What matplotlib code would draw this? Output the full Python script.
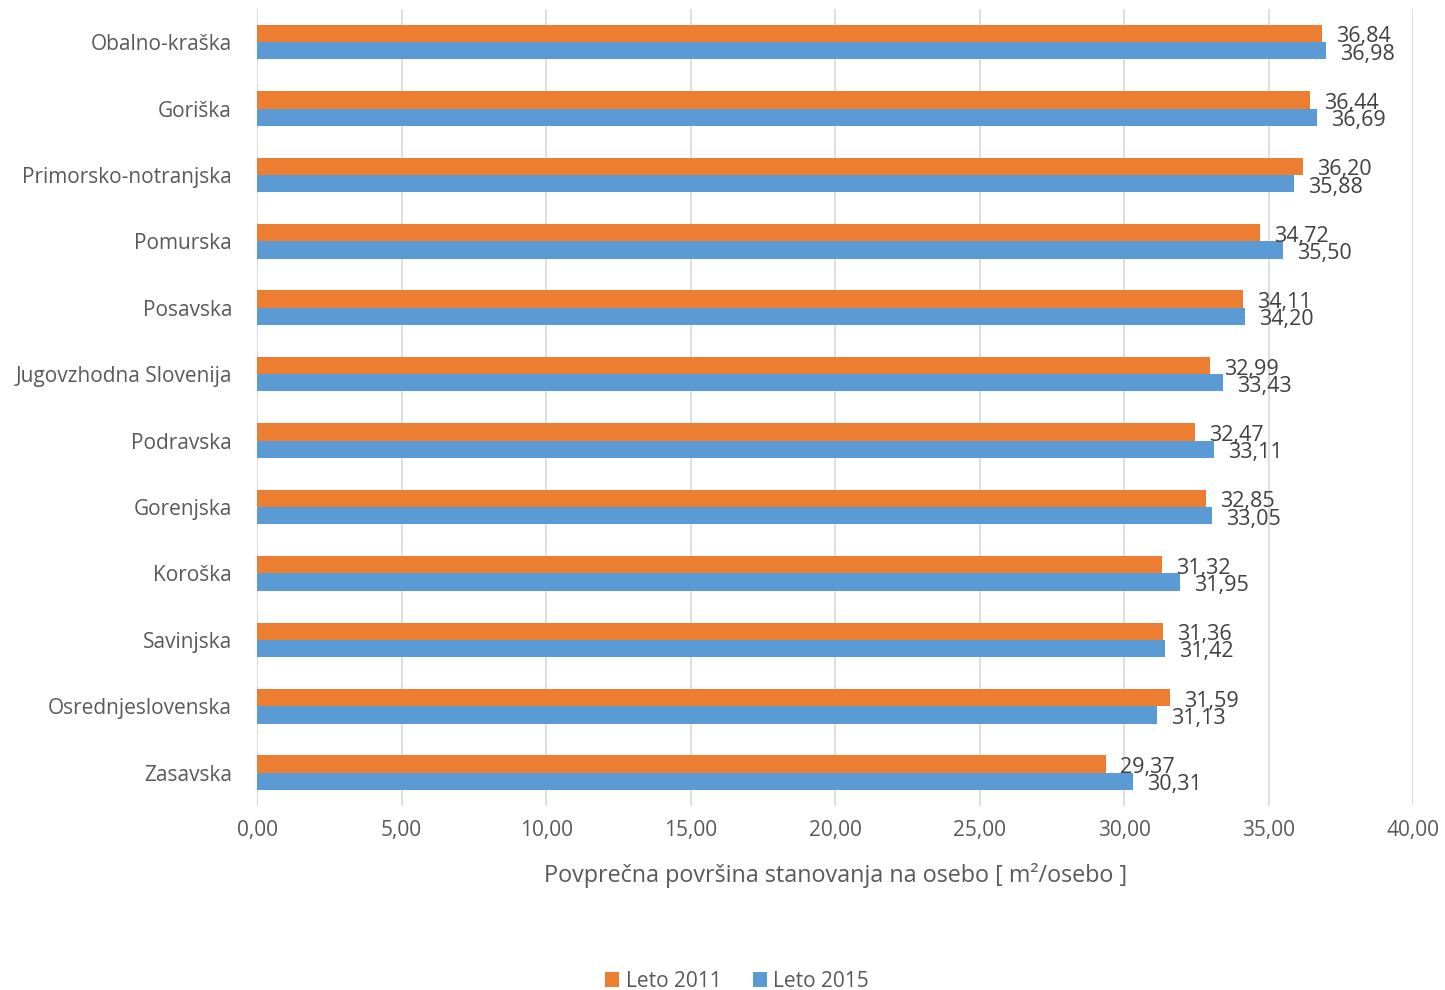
import numpy as np
import matplotlib.pyplot as plt

# data
regions = ['Obalno-kraška', 'Goriška', 'Primorsko-notranjska', 'Pomurska', 'Posavska',
           'Jugovzhodna Slovenija', 'Podravska', 'Gorenjska', 'Koroška', 'Savinjska',
           'Osrednjeslovenska', 'Zasavska']
leto_2011 = [36.84, 36.44, 36.20, 34.72, 34.11, 32.99, 32.47, 32.85, 31.32, 31.36, 31.59, 29.37]
leto_2015 = [36.98, 36.69, 35.88, 35.50, 34.20, 33.43, 33.11, 33.05, 31.95, 31.42, 31.13, 30.31]
x_ticks = [0, 5, 10, 15, 20, 25, 30, 35, 40]

plt.rcParams['font.family'] = ['Open Sans', 'DejaVu Sans']
txt = '#595959'

fig = plt.figure(figsize=(14.45, 9.9), dpi=100)
ax = fig.add_axes([0.1779, 0.186, 0.8, 0.805])

y = np.arange(len(regions))
h = 0.26
b1 = ax.barh(y - h / 2, leto_2011, height=h, color='#ED7D31', label='Leto 2011', zorder=3)
b2 = ax.barh(y + h / 2, leto_2015, height=h, color='#5B9BD5', label='Leto 2015', zorder=3)

# value labels (they touch each other in the original too)
for bars, vals in ((b1, leto_2011), (b2, leto_2015)):
    for bar, v in zip(bars, vals):
        ax.annotate(f'{v:.2f}'.replace('.', ','),
                    (v, bar.get_y() + bar.get_height() / 2),
                    xytext=(10, -2.5), textcoords='offset points',
                    ha='left', va='center', fontsize=15.5, color='#404040')

ax.set_yticks(y)
ax.set_yticklabels(regions, fontsize=15, color=txt)
ax.set_ylim(len(regions) - 0.5, -0.5)
ax.set_xlim(0, 40)
ax.set_xticks(x_ticks)
ax.set_xticklabels([f'{t:.2f}'.replace('.', ',') for t in x_ticks], fontsize=15, color=txt)
ax.tick_params(length=0, pad=10)
ax.tick_params(axis='y', pad=18)
ax.grid(axis='x', color='#D9D9D9', linewidth=1.2, zorder=0)
for s in ax.spines.values():
    s.set_visible(False)
ax.axvline(0, color='#D9D9D9', linewidth=1.2, zorder=1)

ax.set_xlabel('Povprečna površina stanovanja na osebo [ m²/osebo ]', fontsize=16.8,
              color=txt, labelpad=16)

fig.legend(handles=[b1, b2], loc='lower center', bbox_to_anchor=(0.51, -0.021), ncol=2,
           frameon=False, fontsize=15, handlelength=0.7, handleheight=0.7,
           handletextpad=0.3, columnspacing=1.5, labelcolor=txt)

fig.savefig('out.png', dpi=100)
